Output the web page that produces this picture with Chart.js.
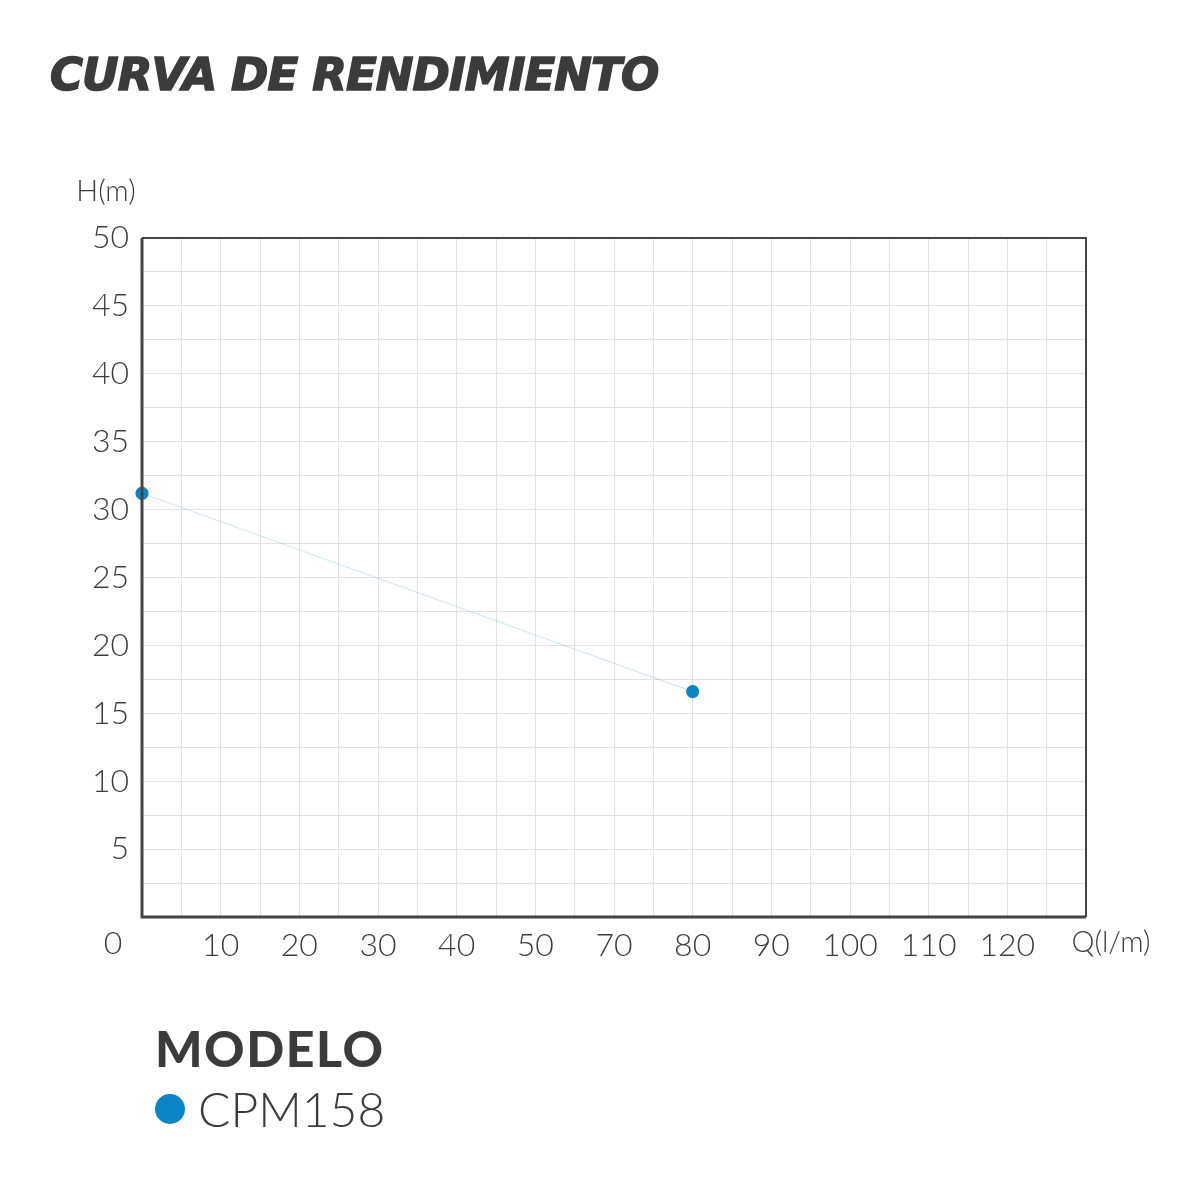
<!DOCTYPE html>
<html>
<head>
<meta charset="utf-8">
<script src="https://cdn.jsdelivr.net/npm/chart.js@4"></script>
<style>
  html, body { margin: 0; padding: 0; background: #fff; }
  #wrap { position: relative; width: 1200px; height: 1200px; }
  #chart { position: absolute; left: 0; top: 0; }
  h1 {
    position: absolute; left: 50px; top: 48px; margin: 0;
    font: oblique bold 45px "DejaVu Sans", sans-serif; color: #3b3b3b; letter-spacing: -0.9px;
    -webkit-text-stroke: 1.6px #3b3b3b;
  }
  #legend { position: absolute; left: 155px; top: 1018px; color: #3b3b3b; }
  #legend .head { font: 900 50px Lato, sans-serif; letter-spacing: 1.5px; }
  #legend .item { display: flex; align-items: center; margin-top: 2px; font: 300 48px Lato, sans-serif; }
  #legend .dot { width: 30px; height: 30px; border-radius: 50%; margin-right: 13px; }
</style>
</head>
<body>
<div id="wrap">
  <canvas id="chart" width="1200" height="1200"></canvas>
  <h1>CURVA DE RENDIMIENTO</h1>
  <div id="legend"></div>
</div>
<script>
const seriesName = 'CPM158';
const flowLpm = [0, 80];        // Q (l/m)
const headM   = [31.2, 16.6];   // H (m)
const xTickLabels = ['0', '10', '20', '30', '40', '50', '70', '80', '90', '100', '110', '120'];
const yTicks = [5, 10, 15, 20, 25, 30, 35, 40, 45, 50];
const pointColor = '#0a85c7';
const ink = '#3d3d3d';

// the x axis is not linear: each label sits two grid cells after the previous one
const xPos = (q) => xTickLabels.indexOf(String(q)) * 2;

const frame = {
  id: 'frame',
  afterDraw(chart) {
    const { ctx, chartArea: a, scales: { x } } = chart;
    ctx.save();
    ctx.strokeStyle = '#444';
    ctx.lineWidth = 2;
    ctx.beginPath();
    ctx.moveTo(a.left, a.top); ctx.lineTo(a.right, a.top); ctx.lineTo(a.right, a.bottom);
    ctx.stroke();
    ctx.lineWidth = 3;
    ctx.beginPath();
    ctx.moveTo(a.left, a.top); ctx.lineTo(a.left, a.bottom); ctx.lineTo(a.right, a.bottom);
    ctx.stroke();
    ctx.fillStyle = ink;
    ctx.textBaseline = 'middle';
    ctx.textAlign = 'center';
    ctx.font = '300 32px Lato, sans-serif';
    ctx.fillText(xTickLabels[0], a.left - 29, 944);
    ctx.font = '300 29px Lato, sans-serif';
    ctx.fillText('Q(l/m)', x.getPixelForValue(24) + 25, 943);
    ctx.fillText('H(m)', 106, 192);
    ctx.restore();
  }
};

new Chart(document.getElementById('chart'), {
  type: 'line',
  data: {
    datasets: [{
      label: seriesName,
      data: flowLpm.map((q, i) => ({ x: xPos(q), y: headM[i] })),
      borderColor: 'rgba(10,133,199,0.18)',
      borderWidth: 1.2,
      pointBackgroundColor: pointColor,
      pointBorderColor: pointColor,
      pointRadius: 6,
      clip: false,
    }],
  },
  options: {
    responsive: false,
    animation: false,
    layout: { padding: { left: 1, top: 238, right: 114, bottom: 223 } },
    plugins: { legend: { display: false }, tooltip: { enabled: false } },
    scales: {
      x: {
        type: 'linear', min: 0, max: 24,
        afterFit: (s) => { s.height = 60; },
        grid: { color: '#e2e2e2', lineWidth: 1, drawTicks: false },
        border: { display: false },
        ticks: {
          stepSize: 1, autoSkip: false, maxRotation: 0, padding: 9, color: ink,
          font: { family: 'Lato, sans-serif', size: 32, weight: 300 },
          callback: (v) => (v > 0 && v < 24 && v % 2 === 0) ? xTickLabels[v / 2] : '',
        },
      },
      y: {
        min: 0, max: 50,
        afterFit: (s) => { s.width = 141; },
        grid: { color: '#e2e2e2', lineWidth: 1, drawTicks: false },
        border: { display: false },
        ticks: {
          stepSize: 2.5, autoSkip: false, padding: 13, color: ink,
          font: { family: 'Lato, sans-serif', size: 32, weight: 300 },
          callback: (v) => yTicks.includes(v) ? String(v) : '',
        },
      },
    },
  },
  plugins: [frame],
});

document.getElementById('legend').innerHTML =
  `<div class="head">MODELO</div>
   <div class="item"><span class="dot" style="background:${pointColor}"></span>${seriesName}</div>`;
</script>
</body>
</html>
